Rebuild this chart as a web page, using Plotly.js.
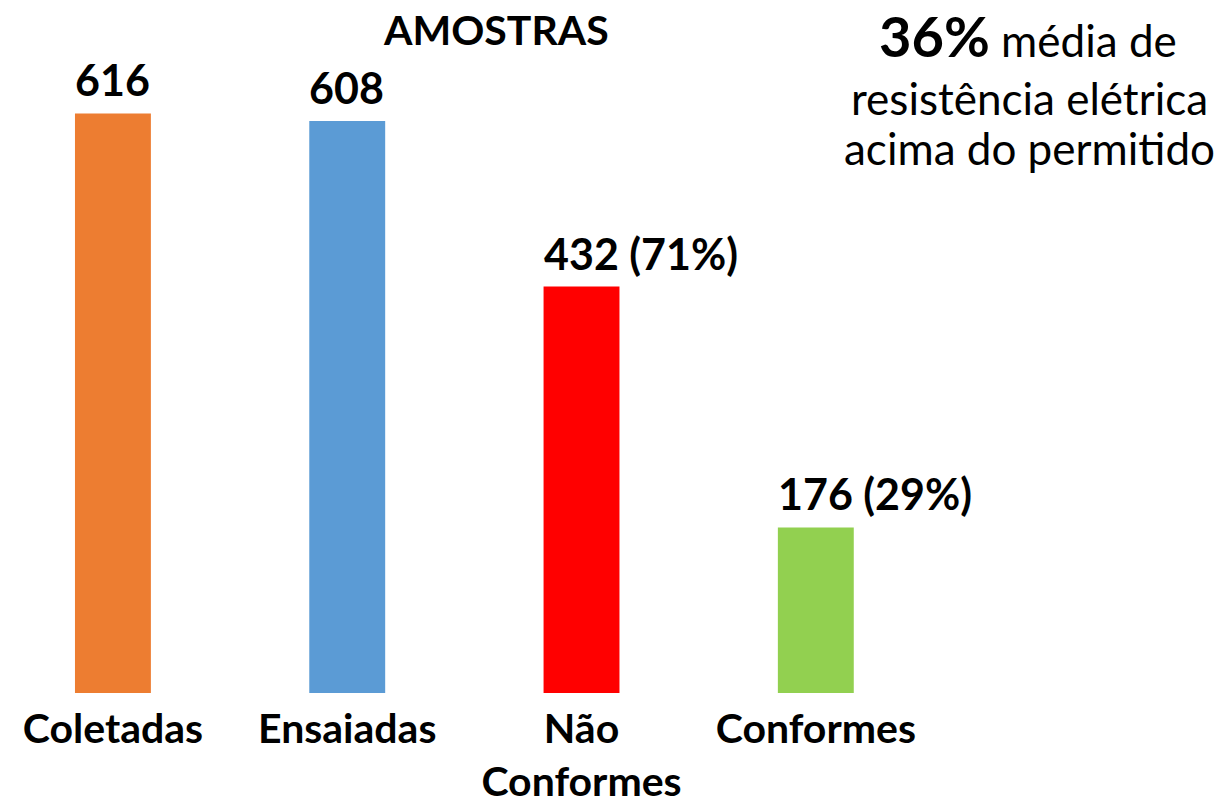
<!DOCTYPE html>
<html>
<head>
<meta charset="utf-8">
<script src="https://cdn.plot.ly/plotly-3.0.1.min.js"></script>
<style>html,body{margin:0;padding:0;background:#fff;}#chart{width:1227px;height:808px;}</style>
</head>
<body>
<div id="chart"></div>
<script>
var categories = ["Coletadas", "Ensaiadas", "Não<br>Conformes", "Conformes"];
var values = [616, 608, 432, 176];
var valueLabels = ["616", "608", "432 (71%)", "176 (29%)"];
var colors = ["#ED7D31", "#5B9BD5", "#FF0000", "#92D050"];
var titleText = "AMOSTRAS";
var noteBold = "36%";
var noteLines = ["média de", "resistência elétrica", "acima do permitido"];

var FONT = "Lato, 'Open Sans', sans-serif";
var barWidth = 0.324;

var trace = {
  type: "bar",
  x: categories,
  y: values,
  width: barWidth,
  marker: {color: colors},
  hoverinfo: "skip"
};

var annotations = [];
for (var i = 0; i < values.length; i++) {
  annotations.push({
    x: i - barWidth / 2, y: values[i], xref: "x", yref: "y",
    xanchor: "left", yanchor: "bottom", yshift: 6, xshift: -2,
    text: "<b>" + valueLabels[i] + "</b>", showarrow: false,
    font: {family: FONT, size: 43, color: "#000"}
  });
}
annotations.push({
  x: 496 / 1227, y: 1 - 34 / 808, xref: "paper", yref: "paper",
  xanchor: "center", yanchor: "middle",
  text: "<b>" + titleText + "</b>", showarrow: false,
  font: {family: FONT, size: 41, color: "#000"}
});
annotations.push({
  x: 1028 / 1227, y: 1 - 41 / 808, xref: "paper", yref: "paper",
  xanchor: "center", yanchor: "middle",
  text: "<b><span style='font-size:56px'>" + noteBold + "</span></b> " + noteLines[0], showarrow: false,
  font: {family: FONT, size: 44, color: "#000"}
});
annotations.push({
  x: 1029 / 1227, y: 1 - 114 / 808, xref: "paper", yref: "paper",
  xanchor: "center", yanchor: "middle",
  text: noteLines[1], showarrow: false,
  font: {family: FONT, size: 44, color: "#000"}
});
annotations.push({
  x: 1029 / 1227, y: 1 - 172 / 808, xref: "paper", yref: "paper",
  xanchor: "center", yanchor: "middle",
  text: noteLines[2], showarrow: false,
  font: {family: FONT, size: 44, color: "#000"}
});

var layout = {
  width: 1227, height: 808,
  margin: {l: 0, r: 0, t: 0, b: 115},
  paper_bgcolor: "#fff", plot_bgcolor: "#fff",
  showlegend: false,
  xaxis: {
    type: "category",
    range: [-0.482, 4.755],
    showgrid: false, zeroline: false, showline: false,
    ticks: "", ticklabelstandoff: 8,
    tickfont: {family: FONT, size: 41, color: "#000", weight: "bold"}
  },
  yaxis: {
    range: [0, 736.6],
    showgrid: false, zeroline: false, showline: false,
    showticklabels: false, ticks: ""
  },
  annotations: annotations
};

Plotly.newPlot("chart", [trace], layout, {displayModeBar: false, staticPlot: true});
</script>
</body>
</html>
